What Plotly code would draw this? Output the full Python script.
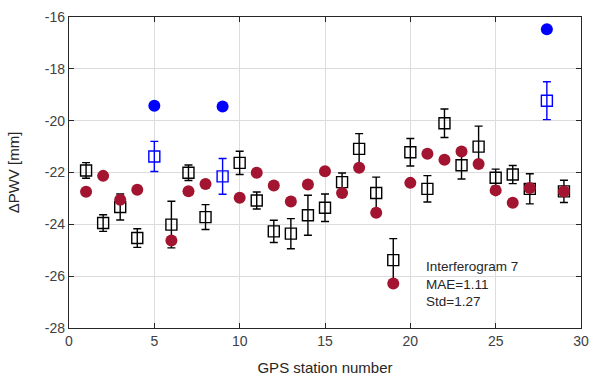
import plotly.graph_objects as go

# GPS stations 1..29
stations = list(range(1, 30))
gps_pwv = [-21.92, -23.95, -23.33, -24.53, -21.38, -24.01, -22.01, -23.72, -22.15, -21.63,
           -23.08, -24.27, -24.36, -23.65, -23.36, -22.37, -21.09, -22.79, -25.38, -21.22,
           -22.63, -20.10, -21.72, -21.00, -22.20, -22.08, -22.63, -19.23, -22.73]
gps_err = [0.30, 0.32, 0.50, 0.36, 0.58, 0.90, 0.30, 0.48, 0.69, 0.45,
           0.33, 0.43, 0.58, 0.77, 0.53, 0.35, 0.59, 0.61, 0.83, 0.53,
           0.51, 0.55, 0.53, 0.79, 0.33, 0.35, 0.58, 0.73, 0.43]
insar_pwv = [-22.74, -22.13, -23.05, -22.67, -19.42, -24.62, -22.72, -22.44, -19.45, -22.97,
             -22.01, -22.50, -23.12, -22.46, -21.95, -22.79, -21.82, -23.55, -26.28, -22.40,
             -21.28, -21.51, -21.19, -21.67, -22.69, -23.17, -22.60, -16.47, -22.73]
# stations flagged as outliers
outliers = [5, 9, 28]

x_ticks = [0, 5, 10, 15, 20, 25, 30]
y_ticks = [-28, -26, -24, -22, -20, -18, -16]
stats_lines = ["Interferogram 7", "MAE=1.11", "Std=1.27"]

RED = "#A2142F"
BLUE = "#0000FF"
FONT = "Liberation Sans, Arial, sans-serif"


def pick(values, flagged):
    return [v for s, v in zip(stations, values) if (s in outliers) == flagged]


fig = go.Figure()

for flagged, color in [(False, "black"), (True, BLUE)]:
    fig.add_trace(go.Scatter(
        x=pick(stations, flagged), y=pick(gps_pwv, flagged),
        mode="markers",
        marker=dict(symbol="square-open", size=11, color=color, line=dict(width=1.4, color=color)),
        error_y=dict(type="data", array=pick(gps_err, flagged), color=color, thickness=1.4, width=4),
        showlegend=False,
    ))

for flagged, color in [(False, RED), (True, BLUE)]:
    fig.add_trace(go.Scatter(
        x=pick(stations, flagged), y=pick(insar_pwv, flagged),
        mode="markers",
        marker=dict(symbol="circle", size=12, color=color, line=dict(width=0)),
        showlegend=False,
    ))

fig.add_annotation(
    x=20.8, y=-25.25, xref="x", yref="y", xanchor="left", yanchor="top",
    text="<br>".join(stats_lines), showarrow=False, align="left",
    font=dict(family=FONT, size=13.5, color="#262626"),
)

axis_common = dict(
    showline=True, linecolor="#262626", linewidth=1.2, mirror="ticks",
    ticks="inside", ticklen=5, tickwidth=1.2, tickcolor="#262626",
    showgrid=True, gridcolor="#DCDCDC", gridwidth=1,
    zeroline=False,
    tickfont=dict(family=FONT, size=14, color="#404040"),
)

fig.update_xaxes(
    range=[0, 30], tickvals=x_ticks, ticktext=[str(v) for v in x_ticks],
    title=dict(text="GPS station number", standoff=14,
               font=dict(family=FONT, size=15, color="#262626")),
    **axis_common,
)
fig.update_yaxes(
    range=[-28, -16], tickvals=y_ticks, ticktext=[str(v) for v in y_ticks],
    title=dict(text="ΔPWV [mm]", standoff=21,
               font=dict(family=FONT, size=15, color="#262626")),
    **axis_common,
)

fig.update_layout(
    width=598, height=389,
    margin=dict(l=69, r=9, t=16, b=61),
    paper_bgcolor="white", plot_bgcolor="white",
)

fig.write_html("out.html")
